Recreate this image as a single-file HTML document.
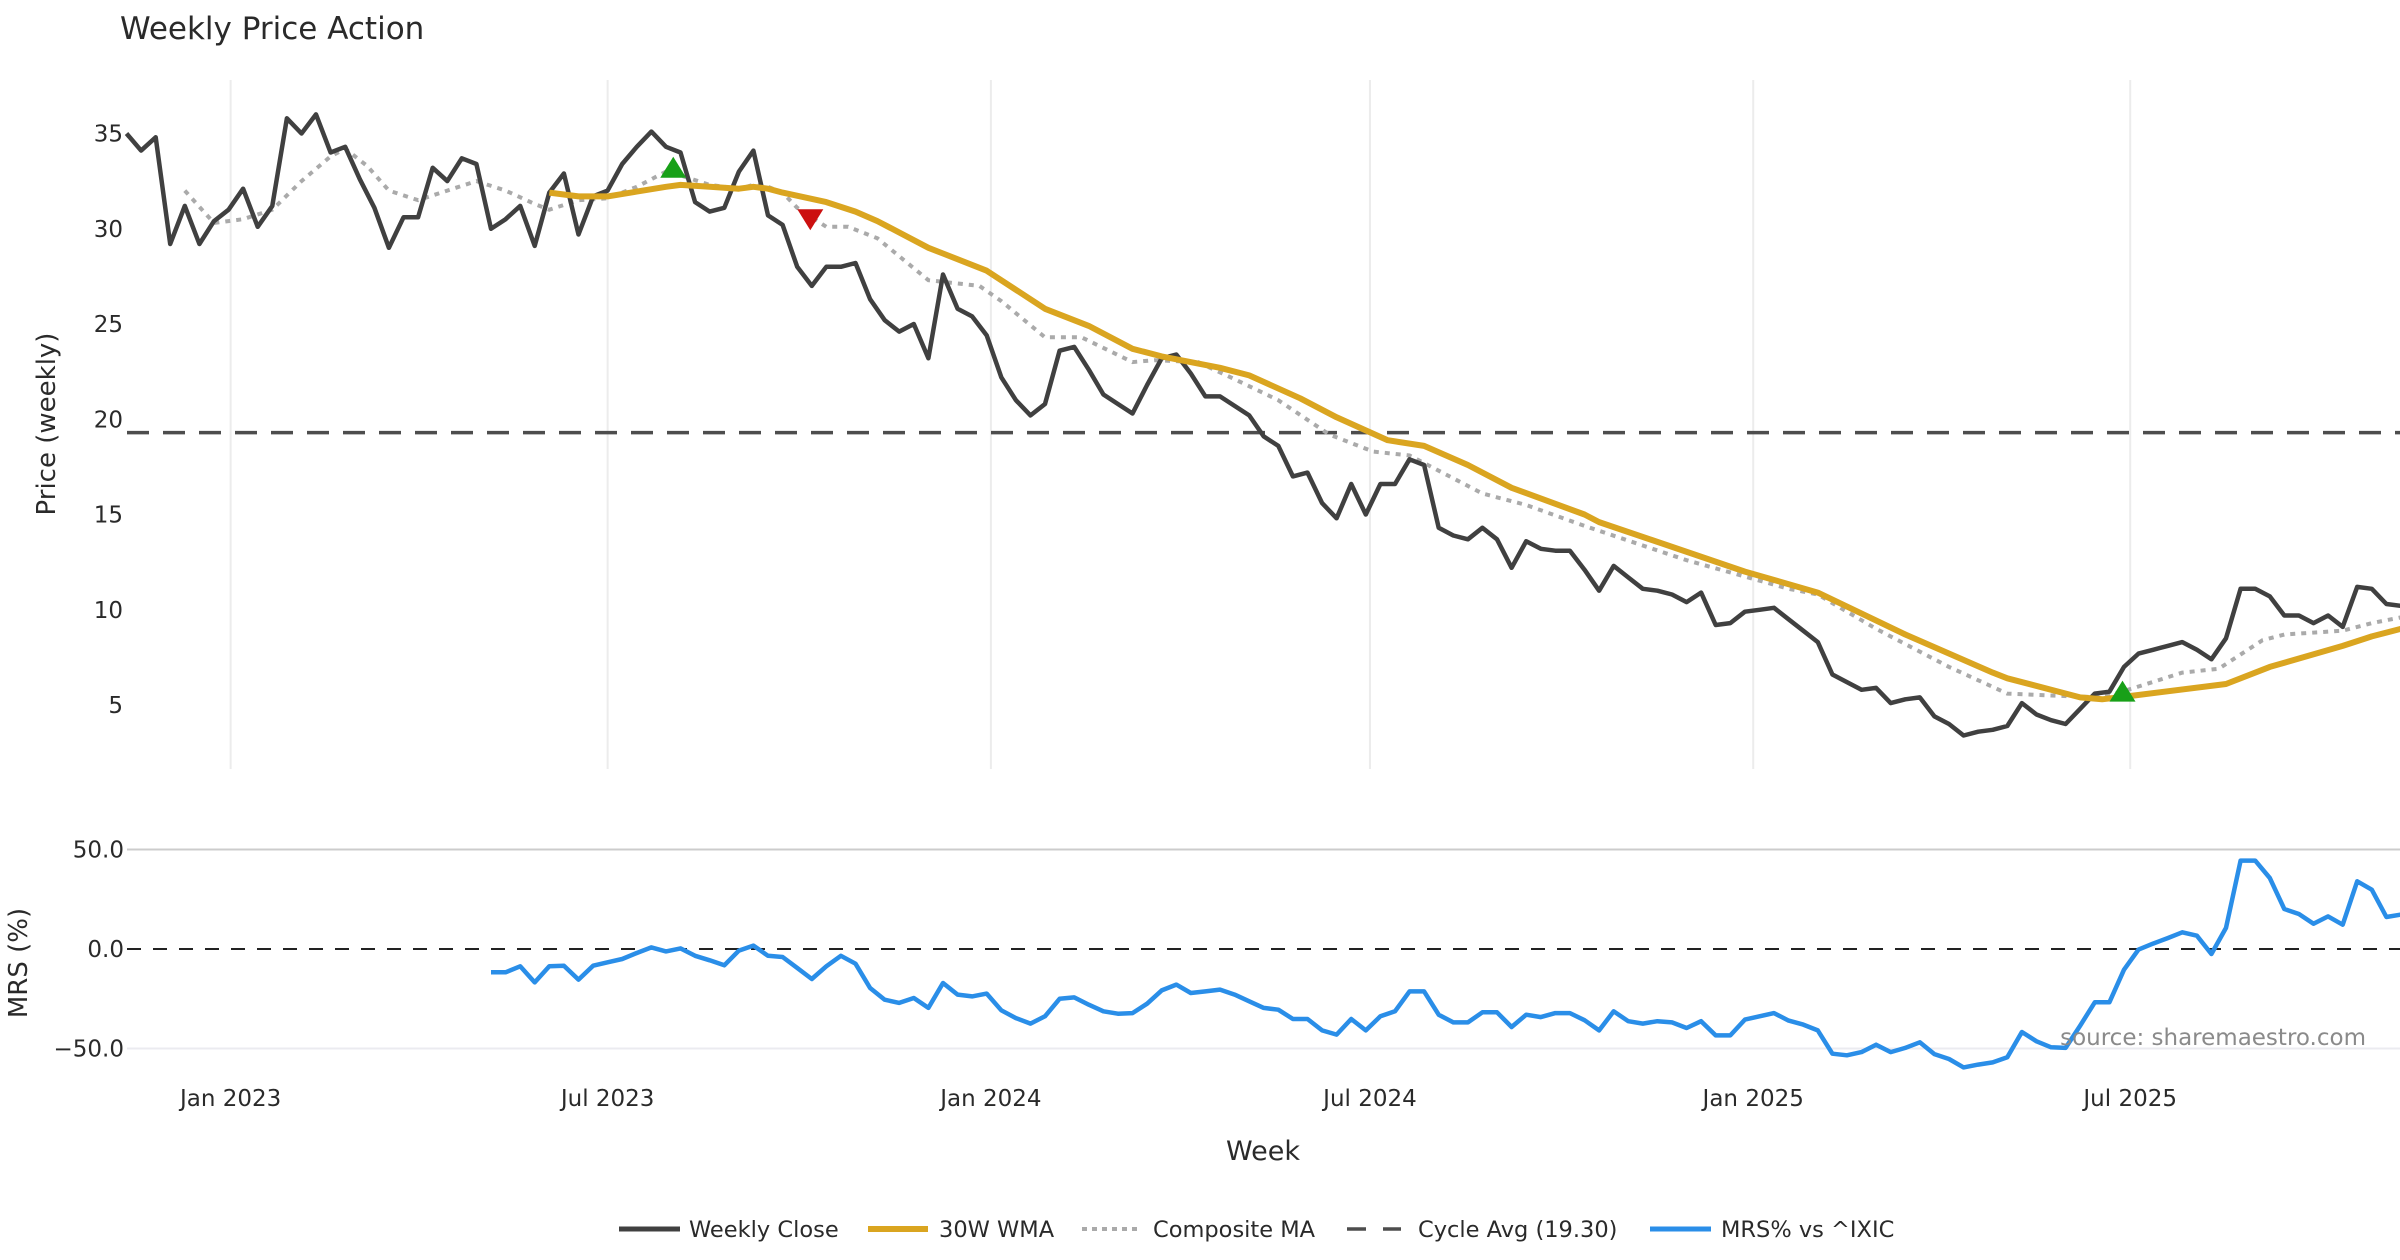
<!DOCTYPE html>
<html><head><meta charset="utf-8"><style>
html,body{margin:0;padding:0;background:#fff;}
svg{display:block;font-family:"DejaVu Sans","Liberation Sans",sans-serif;}
</style></head><body>
<svg id="chart" width="2400" height="1260" viewBox="0 0 2400 1260">
<text x="120" y="39" font-size="31" fill="#2a2a2a">Weekly Price Action</text>
<g id="grid"></g>
<g id="price"></g>
<g id="mrs"></g>
<g id="xaxis"></g>
<text x="46" y="424" font-size="26" fill="#2a2a2a" text-anchor="middle" transform="rotate(-90 46 424)" dy="9">Price (weekly)</text>
<text x="18" y="963" font-size="26" fill="#2a2a2a" text-anchor="middle" transform="rotate(-90 18 963)" dy="9">MRS (%)</text>
<text x="1263" y="1160" font-size="27" fill="#2a2a2a" text-anchor="middle">Week</text>
<text x="2366" y="1045" font-size="23" fill="#8a8a8a" text-anchor="end">source: sharemaestro.com</text>
<g id="legend">
 <g><line x1="619" y1="1229" x2="680" y2="1229" stroke="#404040" stroke-width="5"/><text x="689" y="1237" font-size="22.5" fill="#2a2a2a">Weekly Close</text></g>
 <g><line x1="868" y1="1229" x2="928" y2="1229" stroke="#DAA520" stroke-width="6"/><text x="939" y="1237" font-size="22.5" fill="#2a2a2a">30W WMA</text></g>
 <g><line x1="1082" y1="1229" x2="1138" y2="1229" stroke="#aaaaaa" stroke-width="4" stroke-dasharray="5 5"/><text x="1153" y="1237" font-size="22.5" fill="#2a2a2a">Composite MA</text></g>
 <g><line x1="1347" y1="1229" x2="1401" y2="1229" stroke="#4d4d4d" stroke-width="3.5" stroke-dasharray="19 17"/><text x="1418" y="1237" font-size="22.5" fill="#2a2a2a">Cycle Avg (19.30)</text></g>
 <g><line x1="1650" y1="1229" x2="1711" y2="1229" stroke="#2a8ee8" stroke-width="5"/><text x="1721" y="1237" font-size="22.5" fill="#2a2a2a">MRS% vs ^IXIC</text></g>
</g>
</svg>
<script>
const closeVals=[35.0,34.1,34.8,29.2,31.2,29.2,30.4,31.0,32.1,30.1,31.2,35.8,35.0,36.0,34.0,34.3,32.6,31.1,29.0,30.6,30.6,33.2,32.5,33.7,33.4,30.0,30.5,31.2,29.1,31.9,32.9,29.7,31.7,32.0,33.4,34.3,35.1,34.3,34.0,31.4,30.9,31.1,33.0,34.1,30.7,30.2,28.0,27.0,28.0,28.0,28.2,26.3,25.2,24.6,25.0,23.2,27.6,25.8,25.4,24.4,22.2,21.0,20.2,20.8,23.6,23.8,22.6,21.3,20.8,20.3,21.8,23.2,23.4,22.4,21.2,21.2,20.7,20.2,19.1,18.6,17.0,17.2,15.6,14.8,16.6,15.0,16.6,16.6,17.9,17.6,14.3,13.9,13.7,14.3,13.7,12.2,13.6,13.2,13.1,13.1,12.1,11.0,12.3,11.7,11.1,11.0,10.8,10.4,10.9,9.2,9.3,9.9,10.0,10.1,9.5,8.9,8.3,6.6,6.2,5.8,5.9,5.1,5.3,5.4,4.4,4.0,3.4,3.6,3.7,3.9,5.1,4.5,4.2,4.0,4.8,5.6,5.7,7.0,7.7,7.9,8.1,8.3,7.9,7.4,8.5,11.1,11.1,10.7,9.7,9.7,9.3,9.7,9.1,11.2,11.1,10.3,10.2];
const wmaIdx=[29,31,33,35,37,38,40,42,43,44,45,48,50,51.5,55,56,59,63,66,69,71,75,77,80.5,83,86.5,89,92,95,100,101,111,116,122,128,129,134,135.5,137.7,144,147,152,154,156];
const wmaVals=[31.9,31.7,31.7,31.95,32.2,32.3,32.2,32.1,32.2,32.1,31.9,31.4,30.9,30.4,29.0,28.7,27.8,25.8,24.9,23.7,23.3,22.7,22.3,21.1,20.1,18.9,18.6,17.6,16.4,15.0,14.6,12.0,10.9,8.7,6.7,6.4,5.4,5.3,5.5,6.1,7.0,8.1,8.6,9.0];
const compIdx=[4,6,8,10,12,14,15,16.5,18,20,22,24,26,28,29,31,33,35,37,38,40,42,43,44,45,46,48,49.5,51.5,55,58.5,60,63,65.5,69,70.5,73.5,76,79,82.5,85.5,88,90,93,96,100,107,114,116,120,125,129,132,135.5,137.7,141,143.5,146.5,148,152,154,156];
const compVals=[32.0,30.3,30.5,31.0,32.5,33.8,34.2,33.3,32.0,31.5,32.0,32.5,32.0,31.3,31.0,31.5,31.6,32.2,33.0,32.8,32.3,32.1,32.3,32.2,31.9,31.1,30.1,30.1,29.5,27.3,27.0,26.2,24.3,24.3,23.0,23.1,23.0,22.1,21.0,19.2,18.3,18.1,17.3,16.1,15.5,14.4,12.6,11.1,10.8,9.0,7.0,5.6,5.5,5.4,5.9,6.7,6.9,8.4,8.7,8.9,9.3,9.6];
const mrsStart=25;
const mrsVals=[-11.7,-11.7,-8.7,-16.8,-8.7,-8.4,-15.4,-8.4,-6.7,-5.0,-2.0,0.8,-1.2,0.3,-3.4,-5.7,-8.2,-0.8,1.7,-3.4,-4.0,-9.5,-15.1,-8.7,-3.4,-7.4,-19.6,-25.5,-27.1,-24.6,-29.6,-17.1,-22.9,-23.8,-22.4,-30.8,-34.7,-37.5,-33.8,-25.0,-24.3,-28.0,-31.3,-32.5,-32.2,-27.5,-20.8,-17.9,-22.1,-21.3,-20.4,-22.9,-26.3,-29.6,-30.5,-35.2,-35.2,-40.9,-43.0,-35.2,-40.9,-33.8,-31.3,-21.3,-21.3,-33.0,-36.9,-36.9,-31.8,-31.8,-39.2,-33.0,-34.2,-32.2,-32.2,-35.8,-40.9,-31.3,-36.3,-37.5,-36.3,-36.9,-39.7,-36.3,-43.4,-43.4,-35.5,-33.8,-32.2,-36.0,-38.0,-40.9,-52.6,-53.4,-51.8,-48.1,-51.8,-49.7,-46.9,-52.8,-55.3,-59.5,-58.1,-57.0,-54.4,-41.7,-46.4,-49.4,-49.7,-38.5,-26.8,-26.8,-10.4,-0.3,2.7,5.5,8.4,6.7,-2.5,10.6,44.4,44.4,35.7,20.1,17.6,12.7,16.4,12.2,34.0,29.8,16.1,17.3];
const cycleAvg=19.30;
const signalUpIdx=[37.5,136.9];
const signalUpVals=[33.2,5.7];
const signalDownIdx=[46.9];
const signalDownVals=[30.5];
const priceTicks=[5,10,15,20,25,30,35];
const mrsTicks=[50,0,-50];
const mrsTickLabels=["50.0","0.0","\u221250.0"];
const xTickLabels=["Jan 2023","Jul 2023","Jan 2024","Jul 2024","Jan 2025","Jul 2025"];
const xTickDays=[50,231,415,597,781,962];

const NS="http://www.w3.org/2000/svg";
const X0=126.5, PXW=14.58;
function xIdx(i){return X0+i*PXW;}
function xDay(d){return X0+d*PXW/7;}
function yP(v){return 705-(v-5)*19.05;}
function yM(v){return 949-v*1.99;}
function mk(tag,attrs,parent){const e=document.createElementNS(NS,tag);for(const k in attrs)e.setAttribute(k,attrs[k]);parent.appendChild(e);return e;}
function pathFrom(xs,ys){return xs.map((x,k)=>(k?'L':'M')+x.toFixed(1)+' '+ys[k].toFixed(1)).join(' ');}

const grid=document.getElementById('grid');
xTickDays.forEach((d,k)=>{
  const l=mk('line',{x1:xDay(d),x2:xDay(d),y1:80,y2:769,stroke:'#ececec','stroke-width':2},grid);
  
  
});
const price=document.getElementById('price');
priceTicks.forEach(v=>{
  const t=mk('text',{x:123,y:yP(v)+8,'font-size':23,fill:'#2a2a2a','text-anchor':'end'},price);
  t.textContent=v;
  
  
});
const ca=mk('line',{x1:127,x2:2400,y1:yP(cycleAvg),y2:yP(cycleAvg),stroke:'#4d4d4d','stroke-width':3.5,'stroke-dasharray':'22 14'},price);


const comp=mk('path',{d:pathFrom(compIdx.map(xIdx),compVals.map(yP)),fill:'none',stroke:'#aaaaaa','stroke-width':4,'stroke-dasharray':'5 6'},price);


const cl=mk('path',{d:pathFrom(closeVals.map((v,i)=>xIdx(i)),closeVals.map(yP)),fill:'none',stroke:'#404040','stroke-width':4.5,'stroke-linejoin':'round'},price);


const wma=mk('path',{d:pathFrom(wmaIdx.map(xIdx),wmaVals.map(yP)),fill:'none',stroke:'#DAA520','stroke-width':6,'stroke-linejoin':'round'},price);


signalUpIdx.forEach((i,k)=>{
  const x=xIdx(i),y=yP(signalUpVals[k]);
  const p=mk('polygon',{points:`${x-13},${y+10} ${x+13},${y+10} ${x},${y-11}`,fill:'#18a018'},price);
  
  
});
signalDownIdx.forEach((i,k)=>{
  const x=xIdx(i),y=yP(signalDownVals[k]);
  const p=mk('polygon',{points:`${x-13},${y-10} ${x+13},${y-10} ${x},${y+11}`,fill:'#cc1010'},price);
  
  
});
const mrs=document.getElementById('mrs');
mrsTicks.forEach((v,k)=>{
  const t=mk('text',{x:124,y:yM(v)+8,'font-size':23,fill:'#2a2a2a','text-anchor':'end'},mrs);
  t.textContent=mrsTickLabels[k];
  
  
  if(v!==0){
    const g=mk('line',{x1:127,x2:2400,y1:yM(v),y2:yM(v),stroke:v>0?'#cccccc':'#ebebf0','stroke-width':2},mrs);
    
    
  }
});
const zl=mk('line',{x1:127,x2:2400,y1:yM(0),y2:yM(0),stroke:'#222','stroke-width':2,'stroke-dasharray':'14 12'},mrs);


const ml=mk('path',{d:pathFrom(mrsVals.map((v,k)=>xIdx(mrsStart+k)),mrsVals.map(yM)),fill:'none',stroke:'#2a8ee8','stroke-width':4.5,'stroke-linejoin':'round'},mrs);


const xa=document.getElementById('xaxis');
xTickDays.forEach((d,k)=>{
  const t=mk('text',{x:xDay(d),y:1106,'font-size':23,fill:'#2a2a2a','text-anchor':'middle'},xa);
  t.textContent=xTickLabels[k];
  
  
});
</script>
</body></html>
